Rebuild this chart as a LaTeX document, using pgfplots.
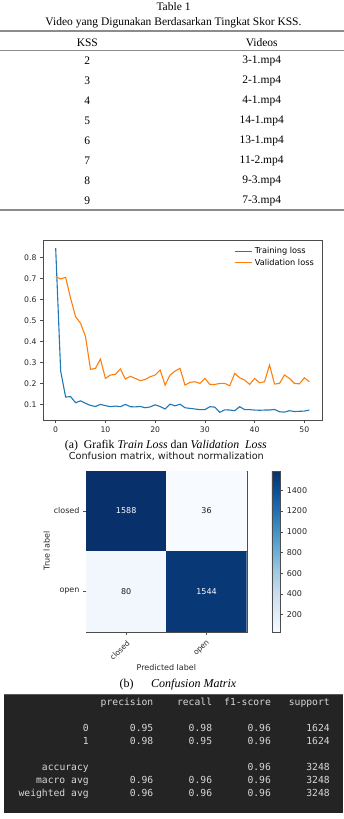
\documentclass[border=0pt]{standalone}
\usepackage{fontspec}
\setmainfont{Liberation Serif}
\setsansfont{DejaVu Sans}
\setmonofont{DejaVu Sans Mono}
\usepackage{pgfplots}
\usepackage{pgfplotstable}
\pgfplotsset{compat=1.18}
\pgfplotsset{/pgf/number format/assume math mode=true}
\definecolor{mplblue}{HTML}{1F77B4}
\definecolor{mplorange}{HTML}{FF7F0E}
\definecolor{termbg}{HTML}{242424}
\definecolor{termfg}{HTML}{D8D8D8}
\definecolor{termedge}{HTML}{5A5A5A}
\definecolor{rulegray}{HTML}{8C8C8C}
\newcommand\fs[1]{\fontsize{#1}{#1}\selectfont}

\pgfplotstableread{
epoch train val
0 0.845 0.709
1 0.259 0.698
2 0.135 0.706
3 0.137 0.606
4 0.108 0.518
5 0.117 0.487
6 0.105 0.423
7 0.095 0.267
8 0.090 0.272
9 0.100 0.316
10 0.094 0.224
11 0.089 0.240
12 0.092 0.243
13 0.089 0.269
14 0.100 0.221
15 0.089 0.234
16 0.088 0.224
17 0.090 0.213
18 0.084 0.219
19 0.088 0.232
20 0.098 0.240
21 0.090 0.264
22 0.078 0.192
23 0.101 0.240
24 0.093 0.259
25 0.101 0.272
26 0.084 0.192
27 0.081 0.205
28 0.078 0.208
29 0.075 0.200
30 0.075 0.224
31 0.089 0.195
32 0.087 0.195
33 0.062 0.200
34 0.074 0.200
35 0.073 0.189
36 0.070 0.248
37 0.089 0.227
38 0.075 0.216
39 0.075 0.195
40 0.073 0.224
41 0.072 0.203
42 0.073 0.208
43 0.073 0.288
44 0.076 0.197
45 0.065 0.200
46 0.063 0.240
47 0.070 0.224
48 0.066 0.200
49 0.067 0.198
50 0.068 0.227
51 0.073 0.208
}\losstable

\begin{document}
\begin{tikzpicture}
\useasboundingbox (0pt,0pt) rectangle (344pt,-819pt);

% ---------------- Table ----------------
\node[font=\fs{11.5}] at (173.5pt,-7pt) {Table 1};
\node[font=\fs{11.5}] at (173.5pt,-23pt) {Video yang Digunakan Berdasarkan Tingkat Skor KSS.};
\draw[rulegray, line width=1.8pt] (0pt,-31pt) -- (344pt,-31pt);
\node[font=\fs{11.5}] at (87.3pt,-42.5pt) {KSS};
\node[font=\fs{11.5}] at (261.7pt,-42.5pt) {Videos};
\draw[rulegray, line width=0.8pt] (0pt,-50.5pt) -- (344pt,-50.5pt);
\foreach \k/\v [count=\i from 0] in {2/3-1.mp4,3/2-1.mp4,4/4-1.mp4,5/14-1.mp4,6/13-1.mp4,7/11-2.mp4,8/9-3.mp4,9/7-3.mp4}{
  \node[font=\fs{11.5}] at (87.3pt,-61pt-20pt*\i) {\k};
  \node[font=\fs{11.5}] at (261.7pt,-61pt-20pt*\i) {\v};
}
\draw[rulegray, line width=1.8pt] (0pt,-210pt) -- (344pt,-210pt);

% ---------------- Loss chart ----------------
\begin{axis}[at={(43pt,-420pt)}, anchor=south west, scale only axis,
  width=279pt, height=180pt,
  xmin=-2.55, xmax=53.55, ymin=0.0255, ymax=0.884,
  xtick={0,10,20,30,40,50}, ytick={0.1,0.2,0.3,0.4,0.5,0.6,0.7,0.8},
  tick align=outside, major tick length=3pt, tick pos=left,
  axis line style={black!70}, every tick/.style={black!70},
  ticklabel style={font=\sffamily\fs{7.7}, text=black!85},
  yticklabel style={/pgf/number format/.cd, fixed, fixed zerofill, precision=1},
  legend style={at={(rel axis cs:1,1)}, anchor=north east, xshift=-3pt, yshift=-3pt,
    draw=none, fill=none, font=\sffamily\fs{8.2}, row sep=0pt},
  legend cell align=left,
  legend image code/.code={\draw[#1] (0pt,0pt) -- (17pt,0pt);},
]
\addplot[mplblue, line width=1.1pt] table[x=epoch,y=train]{\losstable};
\addlegendentry{Training loss}
\addplot[mplorange, line width=1.1pt] table[x=epoch,y=val]{\losstable};
\addlegendentry{Validation loss}
\end{axis}

\node[font=\fs{11.8}] at (165.8pt,-445.7pt) {(a)\ \ Grafik \textit{Train Loss} dan \textit{Validation\ \ Loss}};

% ---------------- Confusion matrix ----------------
\begin{axis}[at={(86pt,-631.7pt)}, anchor=south west, scale only axis,
  width=160.7pt, height=161pt,
  xmin=-0.5, xmax=1.5, ymin=-0.5, ymax=1.5, y dir=reverse,
  xtick={0,1}, xticklabels={closed,open},
  ytick={0,1}, yticklabels={closed,open},
  tick align=outside, major tick length=3pt, tick pos=left,
  axis line style={black!70}, every tick/.style={black!70},
  xticklabel style={rotate=45, anchor=north east, font=\sffamily\fs{7.5}, text=black!85},
  yticklabel style={font=\sffamily\fs{8}, text=black!85},
  title={Confusion matrix, without normalization},
  title style={at={(axis description cs:0.5,1.0497)}, anchor=center, font=\sffamily\fs{9.7}, text=black!90},
  xlabel={Predicted label},
  xlabel style={at={(axis description cs:0.5,-0.2236)}, anchor=center, font=\sffamily\fs{8}, text=black!85},
  ylabel={True label},
  ylabel style={at={(axis description cs:-0.2446,0.5)}, anchor=center, font=\sffamily\fs{8}, text=black!85},
  colormap={blues}{rgb255=(247,251,255) rgb255=(222,235,247) rgb255=(198,219,239) rgb255=(158,202,225) rgb255=(107,174,214) rgb255=(66,146,198) rgb255=(33,113,181) rgb255=(8,81,156) rgb255=(8,48,107)},
  point meta min=36, point meta max=1588,
  colorbar,
  colorbar style={at={(parent axis.north east)}, anchor=north west, xshift=16.6pt,
    scale only axis, width=8.4pt, height=161pt,
    ytick={200,400,600,800,1000,1200,1400},
    ytick pos=right, yticklabel pos=right,
    tick align=outside, major tick length=3pt,
    axis line style={black!70}, every tick/.style={black!70},
    yticklabel style={font=\sffamily\fs{8}, text=black!85, /pgf/number format/1000 sep={}},
  },
]
\addplot[matrix plot*, mesh/cols=2, point meta=explicit] coordinates {
  (0,0) [1588] (1,0) [36]
  (0,1) [80]   (1,1) [1544]
};
\addplot[draw=none, mark=none, nodes near coords, point meta=explicit symbolic,
  nodes near coords align=center,
  every node near coord/.append style={anchor=center, font=\sffamily\fs{8}, text=white}]
  coordinates {(0,0) [1588] (1,1) [1544]};
\addplot[draw=none, mark=none, nodes near coords, point meta=explicit symbolic,
  nodes near coords align=center,
  every node near coord/.append style={anchor=center, font=\sffamily\fs{8}, text=black!90}]
  coordinates {(1,0) [36] (0,1) [80]};
\end{axis}

\node[font=\fs{12}] at (126.7pt,-684.3pt) {(b)};
\node[font=\fs{12}] at (193.7pt,-684.3pt) {\textit{Confusion Matrix}};

% ---------------- Classification report ----------------
\fill[termbg] (4pt,-694.7pt) rectangle (343pt,-812.7pt);
\draw[termedge, line width=0.6pt] (4pt,-694.7pt) -- (343pt,-694.7pt);
\begin{scope}[every node/.style={font=\ttfamily\fs{9.7}, text=termfg, anchor=mid east, inner sep=0pt}]
\node at (153.5pt,-703.3pt) {precision};
\node at (212.3pt,-703.3pt) {recall};
\node at (271.1pt,-703.3pt) {f1-score};
\node at (329.9pt,-703.3pt) {support};
\foreach \lab/\p/\r/\f/\s/\y in {0/0.95/0.98/0.96/1624/729.3, 1/0.98/0.95/0.96/1624/742, macro avg/0.96/0.96/0.96/3248/780.7, weighted avg/0.96/0.96/0.96/3248/793.7}{
  \node at (88.9pt,-\y pt) {\lab};
  \node at (153.5pt,-\y pt) {\p};
  \node at (212.3pt,-\y pt) {\r};
  \node at (271.1pt,-\y pt) {\f};
  \node at (329.9pt,-\y pt) {\s};
}
\node at (88.9pt,-768.3pt) {accuracy};
\node at (271.1pt,-768.3pt) {0.96};
\node at (329.9pt,-768.3pt) {3248};
\end{scope}
\end{tikzpicture}
\end{document}
